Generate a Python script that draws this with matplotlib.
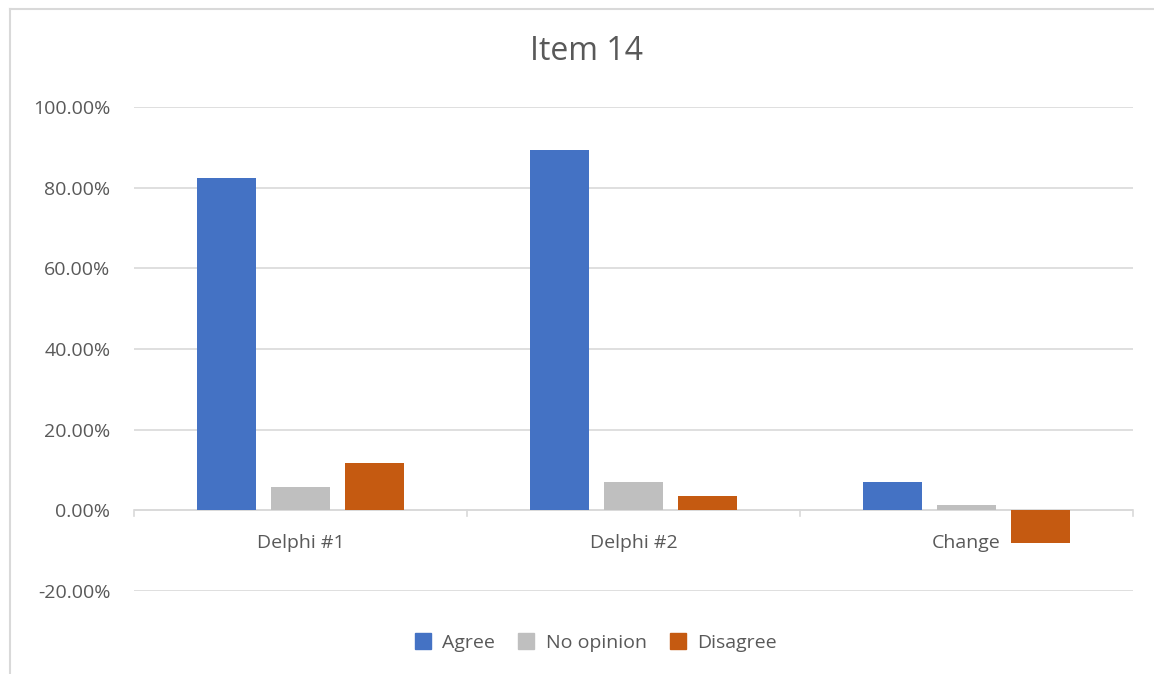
import matplotlib.pyplot as plt
import numpy as np
from matplotlib.lines import Line2D
from matplotlib.ticker import PercentFormatter

categories = ['Delphi #1', 'Delphi #2', 'Change']
agree = [82.35, 89.29, 6.93]
no_opinion = [5.88, 7.14, 1.26]
disagree = [11.76, 3.57, -8.19]

series = [('Agree', agree, '#4472c4'),
          ('No opinion', no_opinion, '#bfbfbf'),
          ('Disagree', disagree, '#c55a11')]

plt.rcParams['font.family'] = ['Open Sans', 'DejaVu Sans']
plt.rcParams['axes.unicode_minus'] = False

fig = plt.figure(figsize=(11.54, 6.74), dpi=100)
ax = fig.add_axes([134 / 1154, 83 / 674, 999 / 1154, 484 / 674])

centers = np.arange(len(categories)) + 0.5
width = 0.177
step = 0.222
for i, (name, vals, color) in enumerate(series):
    ax.bar(centers + (i - 1) * step, vals, width, color=color, label=name, zorder=3)

ax.set_xlim(0, len(categories))
ax.set_ylim(-20, 100)
ax.set_yticks(np.arange(-20, 101, 20))
ax.yaxis.set_major_formatter(PercentFormatter(decimals=2))
ax.grid(axis='y', color='#d9d9d9', linewidth=1.2, zorder=0)
ax.tick_params(axis='y', length=0, pad=17, labelsize=14, labelcolor='#595959')
for s in ax.spines.values():
    s.set_visible(False)

# zero line with category separators
ax.axhline(0, color='#d9d9d9', linewidth=1.2, zorder=2)
ax.set_xticks([])
for b in range(len(categories) + 1):
    ax.plot([b, b], [0, -1.3], color='#d9d9d9', linewidth=1.2, clip_on=False, zorder=2)
for c, name in zip(centers, categories):
    ax.text(c, -8.2, name, ha='center', va='center', fontsize=14, color='#595959')

fig.text(586 / 1154, 1 - 52 / 674, 'Item 14', ha='center', va='center',
         fontsize=23, color='#595959')

handles = [Line2D([], [], marker='s', linestyle='', markersize=11,
                  markerfacecolor=c, markeredgecolor=c) for _, _, c in series]
fig.legend(handles, [n for n, _, _ in series], loc='center',
           bbox_to_anchor=(590 / 1154, 1 - 643 / 674), ncol=3, frameon=False,
           fontsize=14, labelcolor='#595959', handletextpad=0.0,
           columnspacing=0.6)

# chart frame (top and left edges)
fig.add_artist(Line2D([9.5 / 1154, 9.5 / 1154], [0, 1 - 8.5 / 674],
                      color='#d9d9d9', linewidth=1.5))
fig.add_artist(Line2D([9.5 / 1154, 1], [1 - 8.5 / 674, 1 - 8.5 / 674],
                      color='#d9d9d9', linewidth=1.5))

fig.savefig('out.png', dpi=100)
